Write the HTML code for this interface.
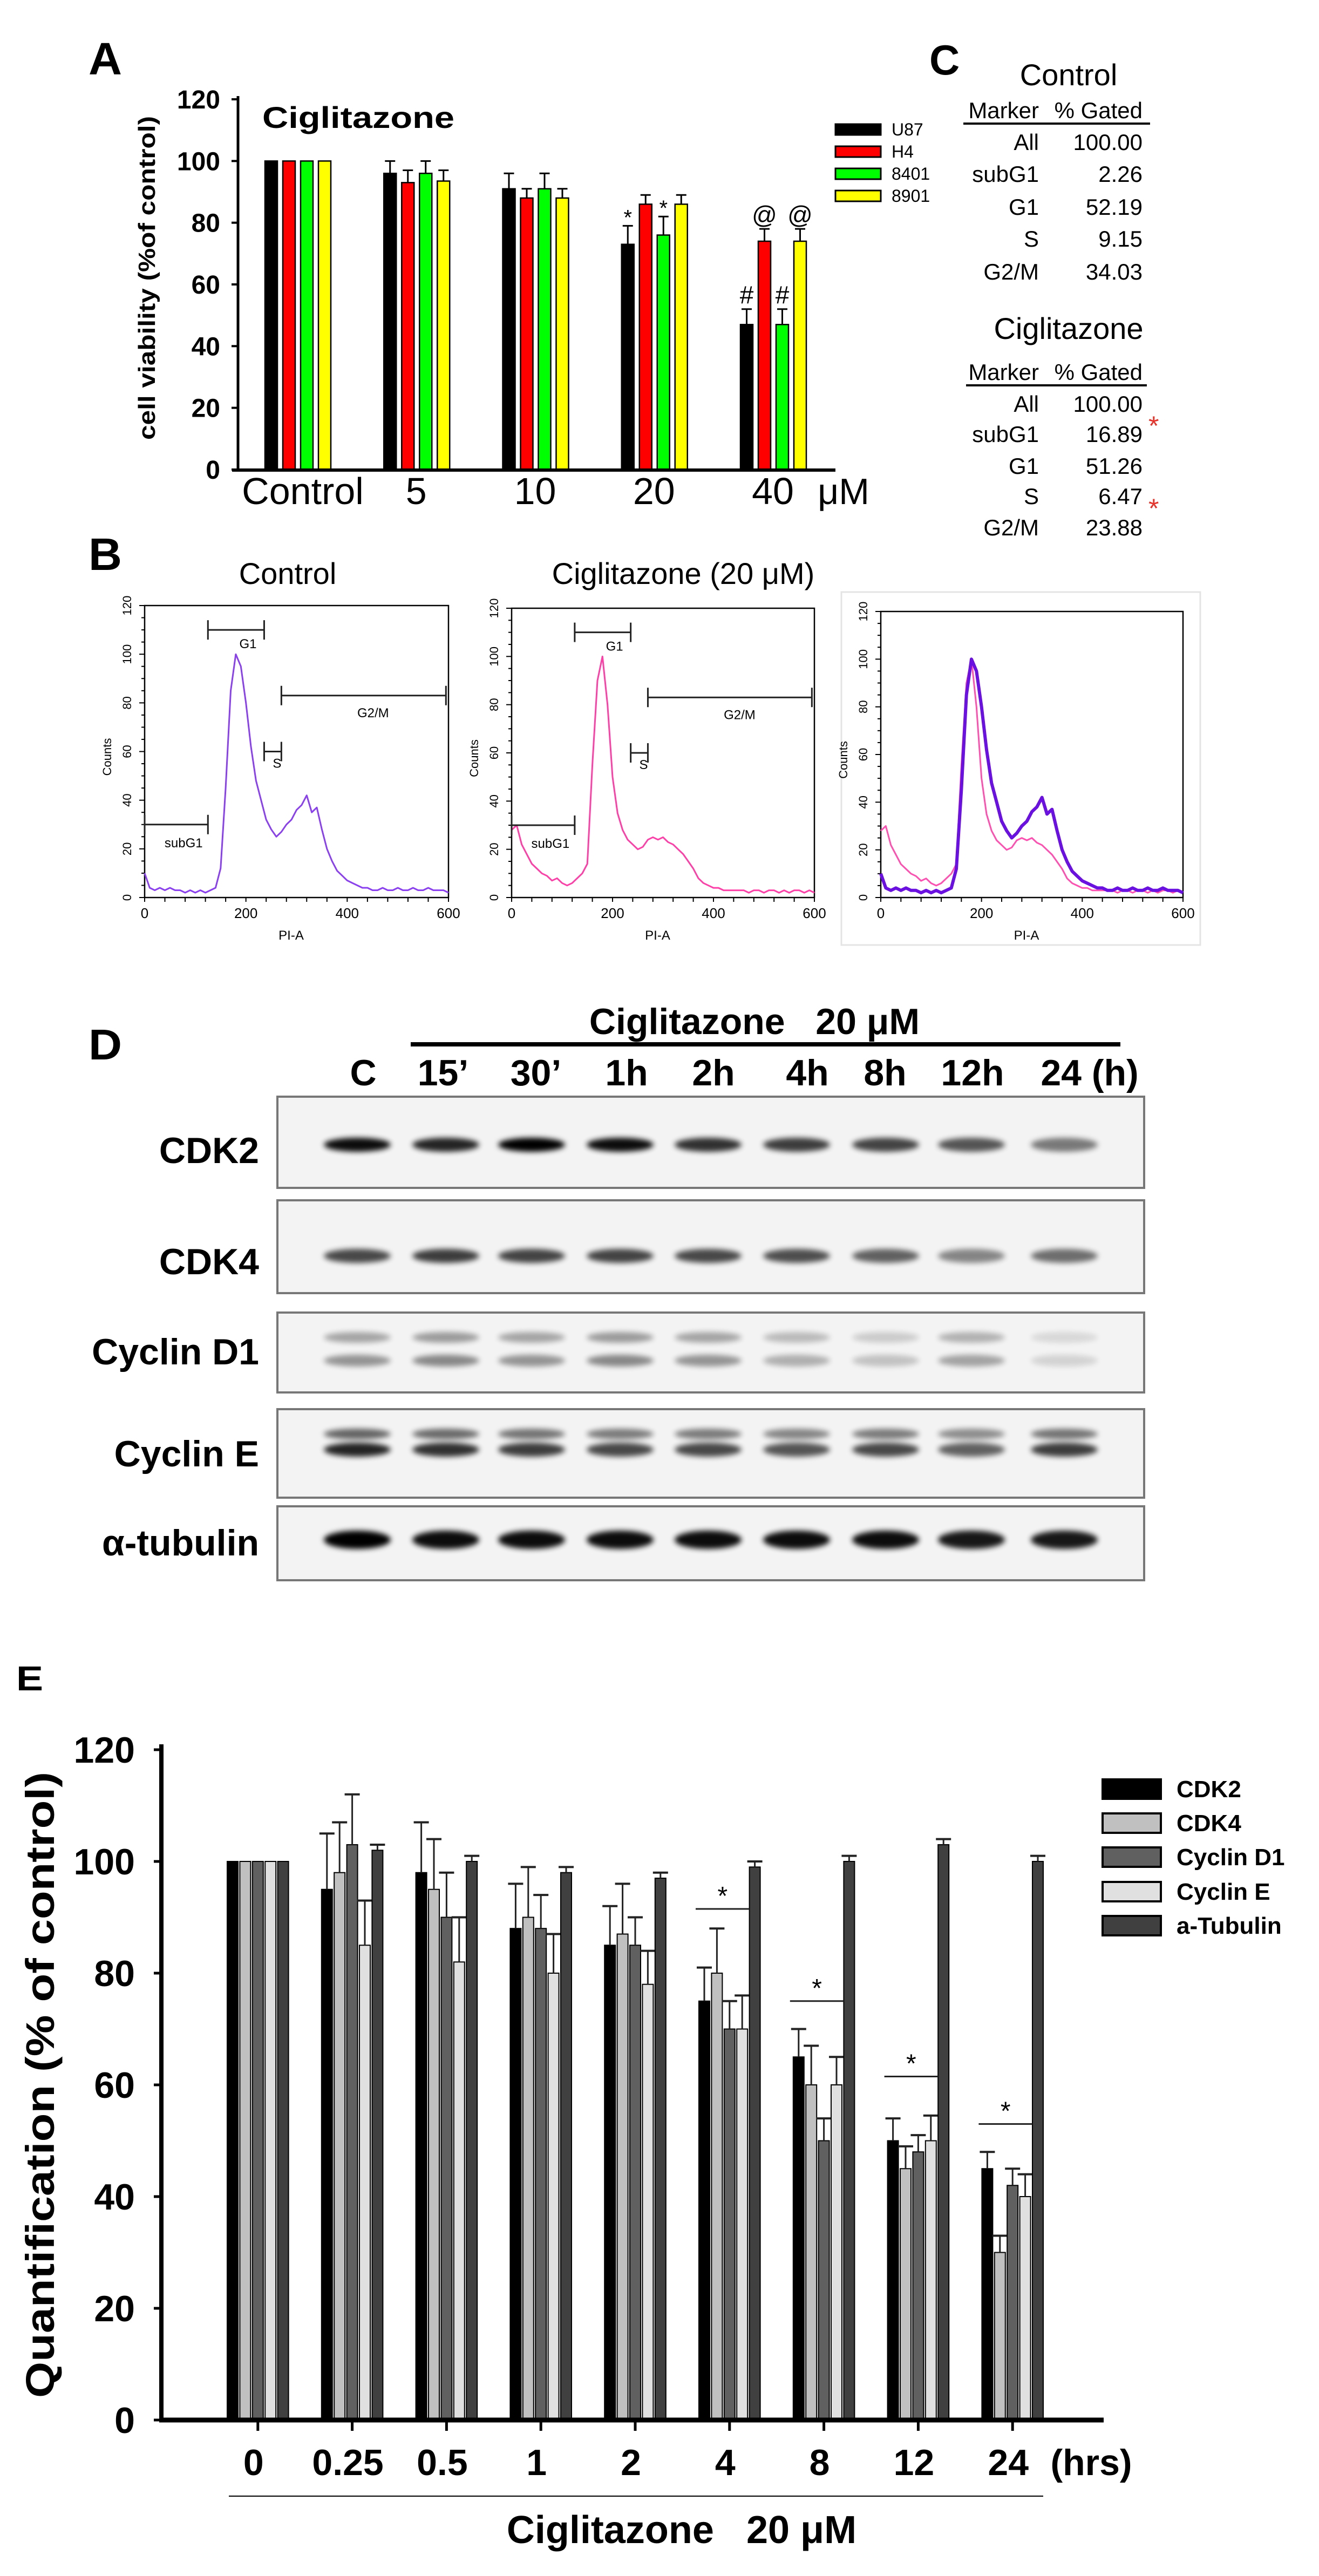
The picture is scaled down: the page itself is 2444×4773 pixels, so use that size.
<!DOCTYPE html>
<html><head><meta charset="utf-8"><style>
html,body{margin:0;padding:0;background:#fff;}
svg{display:block;}
text{font-family:"Liberation Sans Narrow","Liberation Sans",sans-serif;}
.b{font-weight:bold;}
.ar{font-family:"Liberation Sans",sans-serif;}
</style></head><body>
<svg id="fig" width="2444" height="4773" viewBox="0 0 2444 4773" xmlns="http://www.w3.org/2000/svg">
<defs>
<filter id="blur" x="-20%" y="-100%" width="140%" height="300%"><feGaussianBlur stdDeviation="5"/></filter>
</defs>
<!-- Panel letters -->
<text x="164" y="138" class="b ar" font-size="84" textLength="62" lengthAdjust="spacingAndGlyphs">A</text>
<text x="1722" y="138" class="b ar" font-size="78">C</text>
<text x="164" y="1056" class="b ar" font-size="84" textLength="62" lengthAdjust="spacingAndGlyphs">B</text>
<text x="164" y="1963" class="b ar" font-size="80" textLength="62" lengthAdjust="spacingAndGlyphs">D</text>
<text x="30" y="3132" class="b ar" font-size="64" textLength="50" lengthAdjust="spacingAndGlyphs">E</text>

<!-- Panel A static -->
<g id="panelA">
<text x="486" y="237" class="b ar" font-size="56" textLength="356" lengthAdjust="spacingAndGlyphs">Ciglitazone</text>
<text transform="translate(287,515) rotate(-90)" text-anchor="middle" class="b ar" font-size="44" textLength="600" lengthAdjust="spacingAndGlyphs">cell viability (%of control)</text>
<text x="1563" y="934" text-anchor="middle" font-size="68">μM</text>
</g>

<!-- Panel C tables -->
<g id="panelC" font-size="42">
<text x="1980" y="158" text-anchor="middle" font-size="56">Control</text>
<text x="1925" y="219" text-anchor="end">Marker</text>
<text x="2117" y="219" text-anchor="end">% Gated</text>
<line x1="1785" y1="229" x2="2131" y2="229" stroke="#000" stroke-width="4"/>
<text x="1980" y="628" text-anchor="middle" font-size="56">Ciglitazone</text>
<text x="1925" y="704" text-anchor="end">Marker</text>
<text x="2117" y="704" text-anchor="end">% Gated</text>
<line x1="1790" y1="714" x2="2125" y2="714" stroke="#000" stroke-width="4"/>
<text x="2128" y="806" fill="#e8332a" font-size="50" class="ar">*</text>
<text x="2128" y="959" fill="#e8332a" font-size="50" class="ar">*</text>
</g>

<!-- Panel B titles -->
<text x="533" y="1082" text-anchor="middle" font-size="56">Control</text>
<text x="1266" y="1082" text-anchor="middle" font-size="56">Ciglitazone (20 μM)</text>
<rect x="1559" y="1097" width="665" height="654" fill="none" stroke="#e4e4e4" stroke-width="3"/>
<g id="panelB"></g>

<!-- Panel D -->
<g id="panelD">
<text x="1398" y="1916" text-anchor="middle" class="b" font-size="68">Ciglitazone&#160;&#160; 20 μM</text>
<line x1="761" y1="1935" x2="2076" y2="1935" stroke="#000" stroke-width="8"/>
</g>

<!-- Panel E -->
<g id="panelE">
<text transform="translate(100,3863) rotate(-90)" text-anchor="middle" class="b ar" font-size="74" textLength="1160" lengthAdjust="spacingAndGlyphs">Quantification (% of control)</text>
<text x="2022" y="4586" text-anchor="middle" class="b" font-size="68">(hrs)</text>
<line x1="424" y1="4625" x2="1933" y2="4625" stroke="#000" stroke-width="2"/>
<text x="1263" y="4712" text-anchor="middle" class="b" font-size="72">Ciglitazone&#160;&#160; 20 μM</text>
</g>
</svg>
<script>
// ===== Panel A data =====
const aGroups = ["Control","5","10","20","40"];
const aSeries = ["U87","H4","8401","8901"];
const aColors = ["#000000","#ff0000","#00ff00","#ffff00"];
const aU87 = [100,96,91,73,47];
const aH4 = [100,93,88,86,74];
const a8401 = [100,96,91,76,47];
const a8901 = [100,93.5,88,86,74];
const aU87Err = [0,4,5,6,5];
const aH4Err = [0,4,3,3,4];
const a8401Err = [0,4,5,6,5];
const a8901Err = [0,3.5,3,3,4];
const aTicks = [0,20,40,60,80,100,120];
// annotations: [group, series, symbol]
const aMarks = [[3,0,"*"],[3,2,"*"],[4,1,"@"],[4,3,"@"],[4,0,"#"],[4,2,"#"]];

// ===== Panel C data =====
const cMarkers = ["All","subG1","G1","S","G2/M"];
const cControl = ["100.00","2.26","52.19","9.15","34.03"];
const cCig = ["100.00","16.89","51.26","6.47","23.88"];

// ===== Panel B data (counts at PI-A = 0,10,...,600) =====
const bControl = [10,4,3,4,3,4,3,3,2,3,2,3,2,3,4,12,45,85,100,95,80,62,48,40,32,28,25,27,30,32,36,38,42,35,37,28,20,15,11,9,7,6,5,4,4,3,3,4,3,3,4,3,3,4,3,3,4,3,3,3,2];
const bCig = [28,30,22,18,14,12,10,9,7,8,6,5,6,8,10,14,55,90,100,80,50,35,28,24,22,20,21,24,25,24,25,23,22,20,18,15,12,8,6,5,4,4,3,3,3,3,3,2,3,3,2,3,3,2,3,2,3,3,2,3,2];
const bYTicks = [0,20,40,60,80,100,120];
const bXTicks = [0,200,400,600];
const bGates = ["subG1","G1","S","G2/M"];
const bGateFrom = [0,125,236,270];
const bGateTo = [125,236,270,595];
const bGateLevel = [30,110,60,83];

// ===== Panel D data =====
const dLanes = ["C","15’","30’","1h","2h","4h","8h","12h","24 (h)"];
const dProteins = ["CDK2","CDK4","Cyclin D1","Cyclin E","α-tubulin"];
const dCDK2 = [0.95,0.85,1.0,0.95,0.8,0.75,0.72,0.65,0.5];
const dCDK4 = [0.7,0.75,0.72,0.72,0.7,0.68,0.6,0.45,0.55];
const dCycD1 = [0.35,0.4,0.35,0.4,0.35,0.25,0.18,0.3,0.12];
const dCycE = [0.85,0.8,0.75,0.7,0.7,0.65,0.7,0.6,0.75];
const dTub = [1,0.95,0.95,0.95,0.95,0.95,0.95,0.9,0.9];

// ===== Panel E data =====
const eGroups = ["0","0.25","0.5","1","2","4","8","12","24"];
const eSeries = ["CDK2","CDK4","Cyclin D1","Cyclin E","a-Tubulin"];
const eColors = ["#000000","#c0c0c0","#606060","#e0e0e0","#404040"];
const eCDK2 = [100,95,98,88,85,75,65,50,45];
const eCDK4 = [100,98,95,90,87,80,60,45,30];
const eCycD1 = [100,103,90,88,85,70,50,48,42];
const eCycE = [100,85,82,80,78,70,60,50,40];
const eTub = [100,102,100,98,97,99,100,103,100];
const eCDK2Err = [0,10,9,8,7,6,5,4,3];
const eCDK4Err = [0,9,9,9,9,8,7,4,3];
const eCycD1Err = [0,9,8,6,5,5,4,3,3];
const eCycEErr = [0,8,8,7,6,6,5,4.5,4];
const eTubErr = [0,1,1,1,1,1,1,1,1];
const eTicks = [0,20,40,60,80,100,120];
const eSigGroups = [5,6,7,8];
const eSigLevel = [91.5,75,61.5,53];

const NS = "http://www.w3.org/2000/svg";
function el(tag, attrs, parent){
  const e = document.createElementNS(NS, tag);
  for (const k in attrs) e.setAttribute(k, attrs[k]);
  parent.appendChild(e);
  return e;
}
function tx(str, attrs, parent){ const t = el("text", attrs, parent); t.textContent = str; return t; }

// ---------- Panel A ----------
(function(){
  const g = document.getElementById("panelA");
  const y0 = 870, y1 = 184, axX = 441;
  const yA = v => y0 - (v/120)*(y0-y1);
  const gx = i => 491 + i*220.25;
  const sx = (i,s) => gx(i) + s*33;
  const bw = 23;
  const vals = [aU87,aH4,a8401,a8901];
  const errs = [aU87Err,aH4Err,a8401Err,a8901Err];
  aTicks.forEach(t=>{
    const tk = el("line",{x1:axX-12,y1:yA(t),x2:axX,y2:yA(t),stroke:"#000","stroke-width":4},g);
    
    
    const lb = tx(String(t),{x:408,y:yA(t)+17,"text-anchor":"end",class:"b ar","font-size":48},g);
    
    
  });
  for(let i=0;i<aGroups.length;i++){
    for(let s=0;s<4;s++){
      const v = vals[s][i], x = sx(i,s);
      const r = el("rect",{x:x,y:yA(v),width:bw,height:y0-yA(v),fill:aColors[s],stroke:"#000","stroke-width":2.5},g);
      
      
      const e = errs[s][i];
      if(e>0){
        const l1 = el("line",{x1:x+bw/2,y1:yA(v),x2:x+bw/2,y2:yA(v+e),stroke:"#000","stroke-width":3},g);
        
        
        const l2 = el("line",{x1:x+2,y1:yA(v+e),x2:x+bw-2,y2:yA(v+e),stroke:"#000","stroke-width":3},g);
        
        
      }
    }
    const xl = ["Control"].includes(aGroups[i]) ? gx(i)+70 : gx(i)+60;
    const lab = tx(aGroups[i],{x:xl,y:934,"text-anchor":"middle","font-size":70},g);
    
    
  }
  aMarks.forEach(m=>{
    const i=m[0], s=m[1], sym=m[2];
    const top = vals[s][i] + errs[s][i];
    const fs = sym==="*"?40:46;
    const t = tx(sym,{x:sx(i,s)+bw/2,y:yA(top)-(sym==="*"?2:10),"text-anchor":"middle","font-size":fs,class:"ar"},g);
    
    
  });
  const ax = el("line",{x1:axX,y1:y1-6,x2:axX,y2:y0+3,stroke:"#000","stroke-width":5},g);
  
  
  const xa = el("line",{x1:430,y1:y0+1,x2:1548,y2:y0+1,stroke:"#000","stroke-width":6},g);
  
  
  aSeries.forEach((s,k)=>{
    const sw = el("rect",{x:1548,y:230+k*41,width:84,height:20,fill:aColors[k],stroke:"#000","stroke-width":3},g);
    
    
    const lt = tx(s,{x:1652,y:251+k*41,"font-size":32},g);
    
    
  });
})();

// ---------- Panel C ----------
(function(){
  const g = document.getElementById("panelC");
  const r1 = [278,337,398,457,518], r2 = [763,819,878,934,992];
  cMarkers.forEach((m,k)=>{
    const a = tx(m,{x:1925,y:r1[k],"text-anchor":"end"},g);
    
    
    const b = tx(cControl[k],{x:2117,y:r1[k],"text-anchor":"end"},g);
    
    
    const c = tx(m,{x:1925,y:r2[k],"text-anchor":"end"},g);
    
    
    const d = tx(cCig[k],{x:2117,y:r2[k],"text-anchor":"end"},g);
    
    
  });
})();

// ---------- Panel B ----------
(function(){
  const g = document.getElementById("panelB");
  const plots = [
    {x0:268,x1:831,top:1122,bot:1663,series:[[bControl,"#8a3ff0",3]],gates:true,name:"control"},
    {x0:948,x1:1509,top:1127,bot:1663,series:[[bCig,"#ff3fa8",3]],gates:true,name:"ciglitazone"},
    {x0:1632,x1:2192,top:1133,bot:1663,series:[[bCig,"#ff4fb0",3],[bControl,"#6a10e0",6]],gates:false,name:"overlay"}
  ];
  plots.forEach(p=>{
    const X = v => p.x0 + v/600*(p.x1-p.x0);
    const Y = v => p.bot - v/120*(p.bot-p.top);
    const fr = el("rect",{x:p.x0,y:p.top,width:p.x1-p.x0,height:p.bot-p.top,fill:"none",stroke:"#000","stroke-width":2.5},g);
    
    
    for(let v=0; v<=120; v+=5){
      const tk = el("line",{x1:p.x0-(v%20===0?10:6),y1:Y(v),x2:p.x0,y2:Y(v),stroke:"#000","stroke-width":2},g);
      
      
    }
    bYTicks.forEach(t=>{
      const lb = tx(String(t),{transform:`translate(${p.x0-25},${Y(t)}) rotate(-90)`,"text-anchor":"middle","font-size":22},g);
      
      
    });
    for(let v=0; v<=600; v+=40){
      const tk = el("line",{x1:X(v),y1:p.bot,x2:X(v),y2:p.bot+8,stroke:"#000","stroke-width":2},g);
      
      
    }
    bXTicks.forEach(t=>{
      const lb = tx(String(t),{x:X(t),y:p.bot+38,"text-anchor":"middle","font-size":26},g);
      
      
    });
    const xt = tx("PI-A",{x:(p.x0+p.x1)/2-10,y:p.bot+78,"text-anchor":"middle","font-size":24},g);
    
    
    const yt = tx("Counts",{transform:`translate(${p.x0-62},${(p.top+p.bot)/2+10}) rotate(-90)`,"text-anchor":"middle","font-size":22},g);
    
    
    p.series.forEach(s=>{
      const d = s[0].map((v,k)=>(k?"L":"M")+X(k*10).toFixed(1)+","+Y(v).toFixed(1)).join("");
      const path = el("path",{d:d,fill:"none",stroke:s[1],"stroke-width":s[2],"stroke-linejoin":"round"},g);
      
      
    });
    if(p.gates){
      bGates.forEach((gn,k)=>{
        const yy = Y(bGateLevel[k]);
        const a = X(bGateFrom[k]), b = X(bGateTo[k]);
        const ln = el("path",{d:`M${a},${yy-18}V${yy+18}M${a},${yy}H${b}M${b},${yy-18}V${yy+18}`,fill:"none",stroke:"#222","stroke-width":3},g);
        
        
        let lx, ly;
        if(gn==="G1"){lx=b-30;ly=yy+34;}
        else if(gn==="G2/M"){lx=a+170;ly=yy+40;}
        else if(gn==="S"){lx=b-8;ly=yy+30;}
        else {lx=b-45;ly=yy+42;}
        const lb = tx(gn,{x:lx,y:ly,"text-anchor":"middle","font-size":24},g);
        
        
      });
    }
  });
})();

// ---------- Panel D ----------
(function(){
  const g = document.getElementById("panelD");
  const laneX = [662,826,985,1149,1312,1476,1641,1800,1972];
  const labelX = [673,821,993,1161,1322,1496,1640,1802,2019];
  dLanes.forEach((l,k)=>{
    const t = tx(l,{x:labelX[k],y:2011,"text-anchor":"middle",class:"b","font-size":68},g);
    
    
  });
  const boxes = [[2032,2201],[2224,2396],[2432,2580],[2611,2775],[2791,2928]];
  const labelY = [2155,2361,2528,2717,2882];
  const intens = [dCDK2,dCDK4,dCycD1,dCycE,dTub];
  const bandY = [[2121],[2327],[2478,2521],[2657,2686],[2853]];
  const bandH = [[20],[20],[14,16],[14,20],[28]];
  dProteins.forEach((p,k)=>{
    const b = boxes[k];
    const r = el("rect",{x:514,y:b[0],width:1606,height:b[1]-b[0],fill:"#f3f3f3",stroke:"#777","stroke-width":4},g);
    
    
    const t = tx(p,{x:480,y:labelY[k],"text-anchor":"end",class:"b","font-size":68},g);
    
    
    intens[k].forEach((v,j)=>{
      bandY[k].forEach((by,q)=>{
        const op = k===2 ? v*(q?1.1:0.9) : (k===3 && q===0 ? v*0.7 : v);
        const e = el("ellipse",{cx:laneX[j],cy:by,rx:62,ry:bandH[k][q]/2+3,fill:"#000",opacity:Math.min(1,op).toFixed(2),filter:"url(#blur)"},g);
        
        
      });
    });
  });
})();

// ---------- Panel E ----------
(function(){
  const g = document.getElementById("panelE");
  const y0 = 4484, y1 = 3242, axX = 299;
  const yE = v => y0 - (v/120)*(y0-y1);
  const gx = i => 421 + i*174.8;
  const sx = (i,s) => gx(i) + s*23.4;
  const bw = 20;
  const vals = [eCDK2,eCDK4,eCycD1,eCycE,eTub];
  const errs = [eCDK2Err,eCDK4Err,eCycD1Err,eCycEErr,eTubErr];
  eTicks.forEach(t=>{
    const tk = el("line",{x1:axX-14,y1:yE(t),x2:axX,y2:yE(t),stroke:"#000","stroke-width":5},g);
    
    
    const lb = tx(String(t),{x:250,y:yE(t)+24,"text-anchor":"end",class:"b","font-size":68},g);
    
    
  });
  for(let i=0;i<eGroups.length;i++){
    for(let s=0;s<5;s++){
      const v = vals[s][i], x = sx(i,s);
      const r = el("rect",{x:x,y:yE(v),width:bw,height:y0-yE(v),fill:eColors[s],stroke:"#000","stroke-width":2},g);
      
      
      const e = errs[s][i];
      if(e>0){
        const l1 = el("line",{x1:x+bw/2,y1:yE(v),x2:x+bw/2,y2:yE(v+e),stroke:"#222","stroke-width":3},g);
        
        
        const l2 = el("line",{x1:x-4,y1:yE(v+e),x2:x+bw+4,y2:yE(v+e),stroke:"#222","stroke-width":4},g);
        
        
      }
    }
    const cx = gx(i) + 2*23.4 + bw/2;
    const tk = el("line",{x1:cx,y1:y0,x2:cx,y2:y0+20,stroke:"#000","stroke-width":5},g);
    
    
    const lb = tx(eGroups[i],{x:cx-8,y:4586,"text-anchor":"middle",class:"b","font-size":68},g);
    
    
  }
  eSigGroups.forEach((gi,k)=>{
    const a = gx(gi) - 6, b = gx(gi) + 4*23.4;
    const yy = yE(eSigLevel[k]);
    const ln = el("line",{x1:a,y1:yy,x2:b,y2:yy,stroke:"#222","stroke-width":3},g);
    
    
    const st = tx("*",{x:(a+b)/2,y:yy-8,"text-anchor":"middle","font-size":48,class:"ar"},g);
    
    
  });
  const ay = el("line",{x1:axX,y1:y1-10,x2:axX,y2:y0+4,stroke:"#000","stroke-width":8},g);
  
  
  const xa = el("line",{x1:axX-4,y1:y0,x2:2045,y2:y0,stroke:"#000","stroke-width":9},g);
  
  
  const ly = [3297,3360,3423,3487,3550];
  eSeries.forEach((s,k)=>{
    const sw = el("rect",{x:2043,y:ly[k],width:108,height:36,fill:eColors[k],stroke:"#000","stroke-width":4},g);
    
    
    const lt = tx(s,{x:2180,y:ly[k]+33,class:"b","font-size":44},g);
    
    
  });
})();
</script>
</body></html>
